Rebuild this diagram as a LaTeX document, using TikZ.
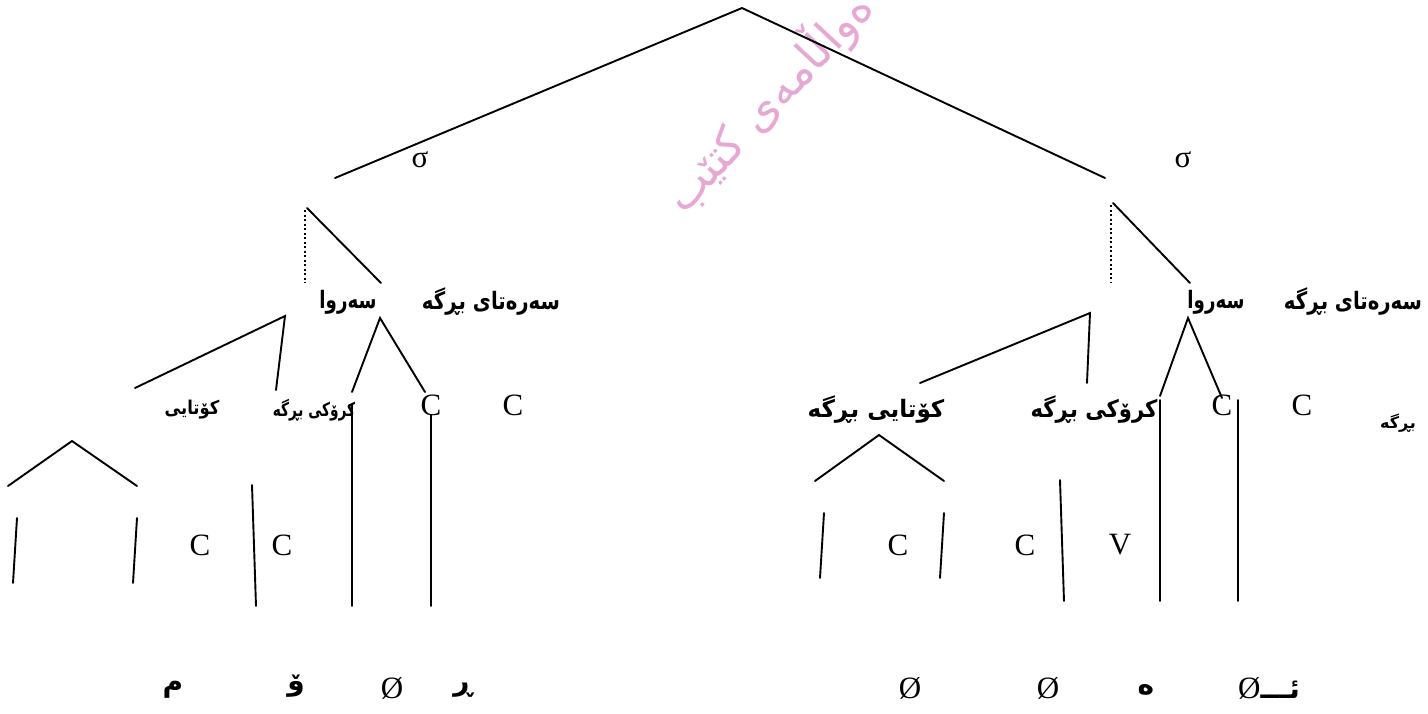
\documentclass[tikz,border=0pt]{standalone}
\usepackage{fontspec}
\setmainfont{Liberation Serif}
\newfontfamily\ar[Script=Arabic]{DejaVu Sans}
\TeXXeTstate=1
\newcommand\rtl[1]{\beginR #1\endR}
\definecolor{wm}{RGB}{232,168,212}
\tikzset{
 ln/.style={line width=1.9pt, line cap=round},
 dl/.style={line width=2.3pt, dash pattern=on 2.2pt off 2.3pt},
 lat/.style={font=\fontsize{31}{33}\selectfont, inner sep=0pt},
 lab/.style={font=\ar\bfseries\fontsize{24}{28}\selectfont, inner sep=0pt},
 labs/.style={font=\ar\bfseries\fontsize{19}{23}\selectfont, inner sep=0pt},
 bot/.style={font=\ar\bfseries\fontsize{28}{32}\selectfont, inner sep=0pt},
}
\begin{document}
\begin{tikzpicture}[x=1pt,y=-1pt]
\useasboundingbox (0,0) rectangle (1428,713);
\clip (0,0) rectangle (1428,713);
% watermark
\node[wm, font=\ar\fontsize{46}{50}\selectfont, rotate=47, anchor=base west, inner sep=0pt] (wmk) at (684,216) {\rtl{ەواڵامەی کتێب}};
% coordinates
\coordinate (top) at (742,8);
\coordinate (sL) at (335,178);
\coordinate (sR) at (1105,178);
\coordinate (dL1) at (305,210); \coordinate (dL2) at (305,283);
\coordinate (aL1) at (307,208); \coordinate (aL2) at (381,283);
\coordinate (dR1) at (1111,205); \coordinate (dR2) at (1111,283);
\coordinate (aR1) at (1113,203); \coordinate (aR2) at (1190,283);
\coordinate (rL) at (285,316); \coordinate (rL1) at (135,388); \coordinate (rL2) at (276,390);
\coordinate (vL) at (380,318); \coordinate (vL1) at (352,392); \coordinate (vL2) at (425,392);
\coordinate (pL1) at (352,405); \coordinate (qL1) at (352,606);
\coordinate (pL2) at (431,415); \coordinate (qL2) at (431,606);
\coordinate (hL) at (72,441); \coordinate (hL1) at (8,486); \coordinate (hL2) at (137,486);
\coordinate (eL1) at (17,518); \coordinate (fL1) at (13,583);
\coordinate (eL2) at (137,518); \coordinate (fL2) at (133,583);
\coordinate (gL1) at (252,485); \coordinate (gL2) at (256,606);
\coordinate (rR) at (1090,313); \coordinate (rR1) at (920,383); \coordinate (rR2) at (1087,383);
\coordinate (vR) at (1188,318); \coordinate (vR1) at (1160,396); \coordinate (vR2) at (1222,398);
\coordinate (pR1) at (1160,400); \coordinate (qR1) at (1160,601);
\coordinate (pR2) at (1238,400); \coordinate (qR2) at (1238,601);
\coordinate (hR) at (879,435); \coordinate (hR1) at (815,481); \coordinate (hR2) at (944,481);
\coordinate (eR1) at (824,513); \coordinate (fR1) at (820,578);
\coordinate (eR2) at (944,513); \coordinate (fR2) at (940,578);
\coordinate (gR1) at (1060,480); \coordinate (gR2) at (1064,601);
% lines
\draw[ln] (sL) -- (top) -- (sR);
\draw[dl] (dL1) -- (dL2);
\draw[ln] (aL1) -- (aL2);
\draw[dl] (dR1) -- (dR2);
\draw[ln] (aR1) -- (aR2);
\draw[ln] (rL1) -- (rL) -- (rL2);
\draw[ln] (vL1) -- (vL) -- (vL2);
\draw[ln] (pL1) -- (qL1);
\draw[ln] (pL2) -- (qL2);
\draw[ln] (hL1) -- (hL) -- (hL2);
\draw[ln] (eL1) -- (fL1);
\draw[ln] (eL2) -- (fL2);
\draw[ln] (gL1) -- (gL2);
\draw[ln] (rR1) -- (rR) -- (rR2);
\draw[ln] (vR1) -- (vR) -- (vR2);
\draw[ln] (pR1) -- (qR1);
\draw[ln] (pR2) -- (qR2);
\draw[ln] (hR1) -- (hR) -- (hR2);
\draw[ln] (eR1) -- (fR1);
\draw[ln] (eR2) -- (fR2);
\draw[ln] (gR1) -- (gR2);
% sigma
\node[lat] (sigL) at (420,160) {σ};
\node[lat] (sigR) at (1183,160) {σ};
% row 1 labels
\node[lab, xscale=0.76] (srL) at (348,302) {\rtl{سەروا}};
\node[lab, xscale=0.82] (stL) at (491,302) {\rtl{سەرەتای بڕگە}};
\node[lab, xscale=0.76] (srR) at (1216,302) {\rtl{سەروا}};
\node[lab, xscale=0.82] (stR) at (1353,302) {\rtl{سەرەتای بڕگە}};
% row 2
\node[labs, xscale=0.86] (ktL) at (192,410) {\rtl{کۆتایی}};
\node[labs, xscale=0.72] (krL) at (314,410) {\rtl{کرۆکی بڕگە}};
\node[lat] (c1) at (431,405) {C};
\node[lat] (c2) at (513,405) {C};
\node[lab, xscale=0.96] (ktR) at (876,410) {\rtl{کۆتایی بڕگە}};
\node[lab, xscale=0.88] (krR) at (1094,410) {\rtl{کرۆکی بڕگە}};
\node[lat] (c3) at (1222,405) {C};
\node[lat] (c4) at (1302,405) {C};
\node[font=\ar\bfseries\fontsize{16}{19}\selectfont, inner sep=0pt] (brg) at (1398,423) {\rtl{بڕگە}};
% row 3
\node[lat] (c5) at (200,545) {C};
\node[lat] (c6) at (282,545) {C};
\node[lat] (c7) at (898,545) {C};
\node[lat] (c8) at (1025,545) {C};
\node[lat] (v1) at (1120,545) {V};
% bottom
\node[bot] (b1) at (173,690) {\rtl{م}};
\node[bot] (b2) at (296,686) {\rtl{ۆ}};
\node[lat] (b3) at (392,688) {Ø};
\node[bot] (b4) at (463,690) {\rtl{ڕ}};
\node[lat] (b5) at (910,688) {Ø};
\node[lat] (b6) at (1048,688) {Ø};
\node[bot] (b7) at (1146,690) {\rtl{ە}};
\node[lat, anchor=west] (b8) at (1238,688) {Ø{\ar\bfseries\fontsize{28}{32}\selectfont\rtl{ئـــ}}};
\end{tikzpicture}
\end{document}
